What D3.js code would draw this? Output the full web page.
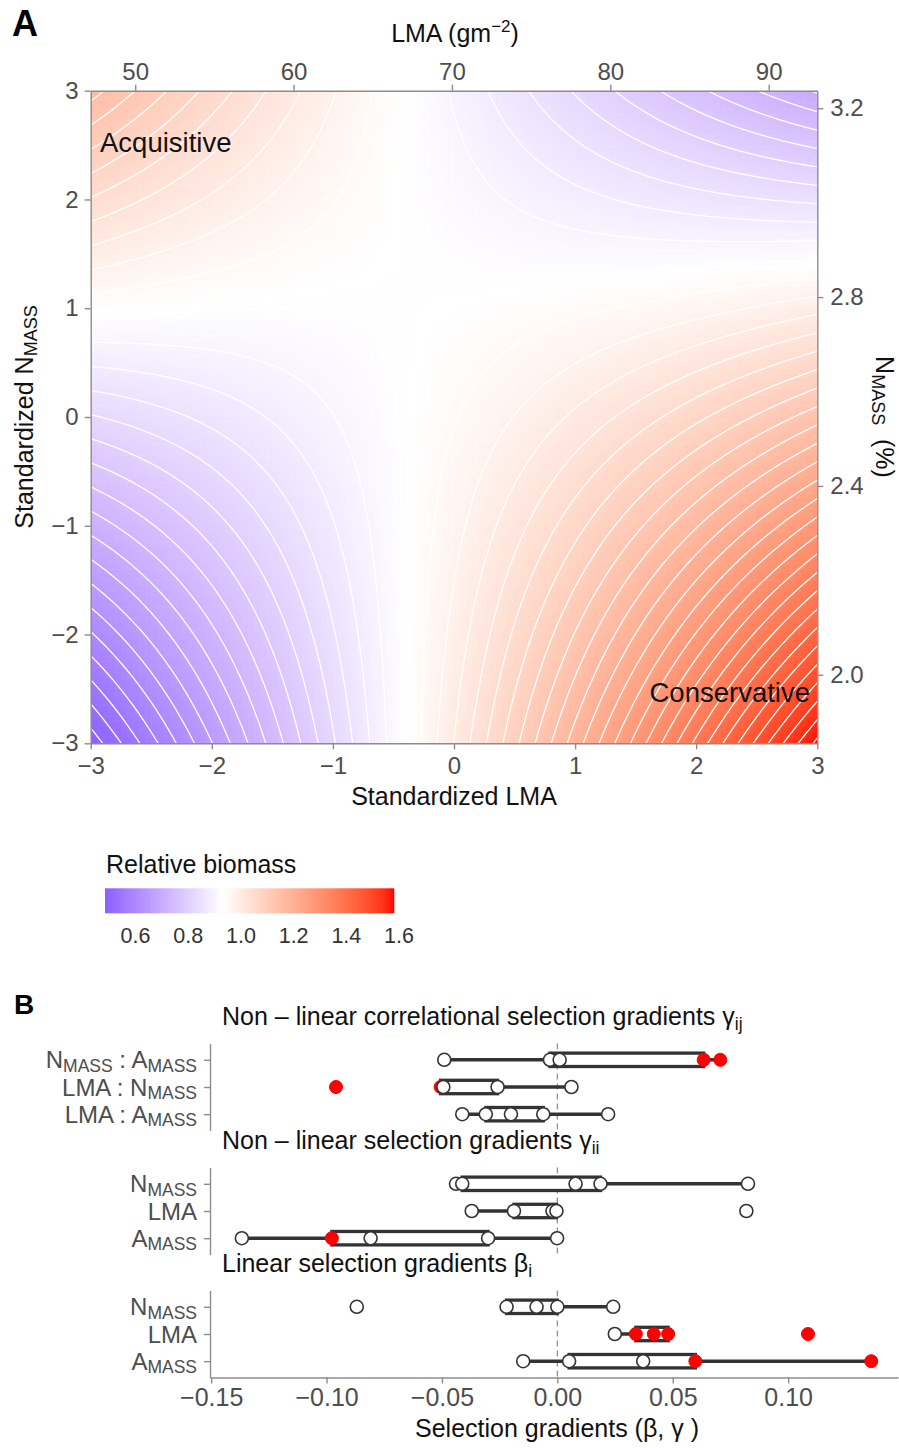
<!DOCTYPE html>
<html>
<head>
<meta charset="utf-8">
<script src="https://cdn.jsdelivr.net/npm/d3@7"></script>
<style>
  body { margin: 0; background: #fff; }
  svg { display: block; font-family: "Liberation Sans", Arial, sans-serif; }
</style>
</head>
<body>
<div id="chart"></div>
<script>
// ---------------- data ----------------
// fitted quadratic surface: x = standardized LMA, y = standardized NMASS
const surfaceTerms = ["intercept", "LMA", "NMASS", "LMA:NMASS", "LMA^2", "NMASS^2"];
const surfaceCoefs = [0.9485, 0.0528, -0.0174, -0.0434, 0.0036, 0.0];
const contourStep = 0.025;
const fillMid = 0.93;           // white point of the fill scale
const lmaMean = 70.13, lmaSd = 7.647;
const nMean = 2.546, nSd = 0.2304;

const stdTicks = [-3, -2, -1, 0, 1, 2, 3];
const lmaTicks = [50, 60, 70, 80, 90];
const nTicks = [2.0, 2.4, 2.8, 3.2];
const legendTicks = [0.6, 0.8, 1.0, 1.2, 1.4, 1.6];

// panel B
const groupTitles = [
  "Non \u2013 linear correlational selection gradients \u03b3_{ij}",
  "Non \u2013 linear selection gradients \u03b3_{ii}",
  "Linear selection gradients \u03b2_{i}"
];
const corrRows = ["N_{MASS} : A_{MASS}", "LMA : N_{MASS}", "LMA : A_{MASS}"];
const traitRows = ["N_{MASS}", "LMA", "A_{MASS}"];

const corrValues = [
  [-0.049, -0.0032, 0.001, 0.0634, 0.0706],
  [-0.0959, -0.0506, -0.0494, -0.0259, 0.0061],
  [-0.0412, -0.031, -0.0201, -0.0061, 0.022]
];
const corrSig = [[0, 0, 0, 1, 1], [1, 1, 0, 0, 0], [0, 0, 0, 0, 0]];

const quadValues = [
  [-0.0439, -0.0412, 0.0079, 0.0187, 0.0826],
  [-0.0371, -0.0188, -0.0021, -0.0004, 0.0819],
  [-0.1367, -0.0977, -0.0809, -0.030, -0.0001]
];
const quadSig = [[0, 0, 0, 0, 0], [0, 0, 0, 0, 0], [0, 1, 0, 0, 0]];

const linValues = [
  [-0.0869, -0.022, -0.009, 0.0, 0.0242],
  [0.0249, 0.034, 0.0418, 0.048, 0.1086],
  [-0.0148, 0.0051, 0.0372, 0.0598, 0.136]
];
const linSig = [[0, 0, 0, 0, 0], [0, 1, 1, 1, 1], [0, 0, 0, 1, 1]];

const gradTicks = [-0.15, -0.10, -0.05, 0.00, 0.05, 0.10];

// ---------------- setup ----------------
const W = 899, H = 1448;
const axisGray = "#8c8c8c", tickText = "#4d4d4d", dark = "#333333";

const svg = d3.select("#chart").append("svg").attr("width", W).attr("height", H);

function rich(sel, str, subSize, shift) {
  const parts = str.split(/(_\{[^}]*\}|\^\{[^}]*\})/).filter(s => s.length);
  let off = 0;
  parts.forEach(p => {
    let t = p, d = 0, sz = null;
    if (p.startsWith("_{")) { t = p.slice(2, -1); d = shift; sz = subSize; }
    else if (p.startsWith("^{")) { t = p.slice(2, -1); d = -shift * 2.4; sz = subSize; }
    const ts = sel.append("tspan").text(t).attr("dy", d - off);
    if (sz) ts.attr("font-size", sz);
    off = d;
  });
}

function styleAxis(g, size, color) {
  g.attr("font-family", null).attr("font-size", size);
  g.select(".domain").attr("stroke", axisGray).attr("stroke-width", 1.4);
  g.selectAll(".tick line").attr("stroke", axisGray).attr("stroke-width", 1.4);
  g.selectAll(".tick text").attr("fill", color);
}

// ---------------- panel A ----------------
const A = { l: 90.7, r: 817.3, t: 90.7, b: 743.3 };
const x = d3.scaleLinear().domain([-3, 3]).range([A.l, A.r]);
const y = d3.scaleLinear().domain([-3, 3]).range([A.b, A.t]);
const xLMA = d3.scaleLinear().domain([lmaMean - 3 * lmaSd, lmaMean + 3 * lmaSd]).range([A.l, A.r]);
const yN = d3.scaleLinear().domain([nMean - 3 * nSd, nMean + 3 * nSd]).range([A.b, A.t]);

function fitness(u, v) {
  const c = surfaceCoefs;
  return c[0] + c[1] * u + c[2] * v + c[3] * u * v + c[4] * u * u + c[5] * v * v;
}

const nCell = 120, cs = 6 / nCell;
const extent = d3.extent(d3.cross(d3.range(nCell + 1), d3.range(nCell + 1)),
  ([i, j]) => fitness(-3 + i * cs, -3 + j * cs));

const fill = d3.scaleLinear()
  .domain([extent[0], fillMid, extent[1]])
  .range(["#8a60ff", "#ffffff", "#ff0000"])
  .interpolate(d3.interpolateLab);

svg.append("clipPath").attr("id", "clipA")
  .append("rect").attr("x", A.l).attr("y", A.t).attr("width", A.r - A.l).attr("height", A.b - A.t);

const gA = svg.append("g").attr("clip-path", "url(#clipA)");

const cells = d3.cross(d3.range(nCell), d3.range(nCell)).map(([i, j]) => ({
  u0: -3 + i * cs, v0: -3 + j * cs,
  w: fitness(-3 + (i + 0.5) * cs, -3 + (j + 0.5) * cs)
}));

gA.append("g").selectAll("rect").data(cells).join("rect")
  .attr("x", d => x(d.u0))
  .attr("y", d => y(d.v0 + cs))
  .attr("width", d => x(d.u0 + cs) - x(d.u0) + 0.6)
  .attr("height", d => y(d.v0) - y(d.v0 + cs) + 0.6)
  .attr("fill", d => fill(d.w));

// contour lines on a padded grid, clipped to the plot
const m = 260, pad = 3.25, gs = 2 * pad / (m - 1);
const grid = new Array(m * m);
for (let j = 0; j < m; j++)
  for (let i = 0; i < m; i++)
    grid[j * m + i] = fitness(-pad + i * gs, pad - j * gs);

const kMin = Math.ceil(extent[0] / contourStep), kMax = Math.floor(extent[1] / contourStep);
const levels = d3.range(kMin, kMax + 1).map(k => +(k * contourStep).toFixed(4));
const contours = d3.contours().size([m, m]).thresholds(levels)(grid);

const proj = d3.geoTransform({
  point(px, py) { this.stream.point(x(-pad + (px - 0.5) * gs), y(pad - (py - 0.5) * gs)); }
});
gA.append("g").selectAll("path").data(contours).join("path")
  .attr("d", d3.geoPath(proj))
  .attr("fill", "none")
  .attr("stroke", "#ffffff")
  .attr("stroke-width", 1.3);

// axes
const intFmt = d3.format("d");
svg.append("g").attr("transform", `translate(0,${A.b})`)
  .call(d3.axisBottom(x).tickValues(stdTicks).tickFormat(intFmt).tickSize(6).tickSizeOuter(0).tickPadding(8))
  .call(g => styleAxis(g, 24, tickText));
svg.append("g").attr("transform", `translate(${A.l},0)`)
  .call(d3.axisLeft(y).tickValues(stdTicks).tickFormat(intFmt).tickSize(6).tickSizeOuter(0).tickPadding(6))
  .call(g => styleAxis(g, 24, tickText));
svg.append("g").attr("transform", `translate(0,${A.t})`)
  .call(d3.axisTop(xLMA).tickValues(lmaTicks).tickFormat(intFmt).tickSize(6).tickSizeOuter(0).tickPadding(5))
  .call(g => styleAxis(g, 24, tickText));
svg.append("g").attr("transform", `translate(${A.r},0)`)
  .call(d3.axisRight(yN).tickValues(nTicks).tickFormat(d3.format(".1f")).tickSize(6).tickSizeOuter(0).tickPadding(7))
  .call(g => styleAxis(g, 24, tickText));

// titles
svg.append("text").attr("x", 454).attr("y", 805).attr("text-anchor", "middle")
  .attr("font-size", 25).attr("fill", "#111").text("Standardized LMA");
rich(svg.append("text").attr("x", 455).attr("y", 42).attr("text-anchor", "middle")
  .attr("font-size", 25).attr("fill", "#111"), "LMA (gm^{\u22122})", 17, 4);
rich(svg.append("text").attr("transform", "translate(33,417) rotate(-90)").attr("text-anchor", "middle")
  .attr("font-size", 25).attr("fill", "#111"), "Standardized N_{MASS}", 18, 4);
rich(svg.append("text").attr("transform", "translate(876,417) rotate(90)").attr("text-anchor", "middle")
  .attr("font-size", 25).attr("fill", "#111"), "N_{MASS}\u00a0 (%)", 18, 4);

svg.append("text").attr("x", 100).attr("y", 152).attr("font-size", 27.5).attr("fill", "#111").text("Acquisitive");
svg.append("text").attr("x", 810).attr("y", 702).attr("text-anchor", "end")
  .attr("font-size", 27.5).attr("fill", "#111").text("Conservative");

svg.append("text").attr("x", 12).attr("y", 36).attr("font-size", 36).attr("font-weight", "bold").text("A");
svg.append("text").attr("x", 14).attr("y", 1014).attr("font-size", 28).attr("font-weight", "bold").text("B");

// legend
const lx = d3.scaleLinear().domain(extent).range([105, 394.3]);
const grad = svg.append("defs").append("linearGradient").attr("id", "legGrad")
  .attr("x1", "0%").attr("x2", "100%").attr("y1", "0%").attr("y2", "0%");
d3.range(0, 1.0001, 0.02).forEach(t => {
  grad.append("stop").attr("offset", `${t * 100}%`)
    .attr("stop-color", fill(extent[0] + t * (extent[1] - extent[0])));
});
svg.append("text").attr("x", 106).attr("y", 873).attr("font-size", 25).attr("fill", "#111").text("Relative biomass");
svg.append("rect").attr("x", lx.range()[0]).attr("y", 888.3)
  .attr("width", lx.range()[1] - lx.range()[0]).attr("height", 25)
  .attr("fill", "url(#legGrad)");
svg.append("g").selectAll("text").data(legendTicks).join("text")
  .attr("x", d => lx(d)).attr("y", 943).attr("text-anchor", "middle")
  .attr("font-size", 21.5).attr("fill", dark).text(d3.format(".1f"));

// ---------------- panel B ----------------
const bx = d3.scaleLinear().domain([-0.1505, 0.1476]).range([210, 898]);
const panelTops = [1043.5, 1167.5, 1290.5];
const panelH = 87;
const groups = [
  { title: groupTitles[0], rows: corrRows, values: corrValues, sig: corrSig },
  { title: groupTitles[1], rows: traitRows, values: quadValues, sig: quadSig },
  { title: groupTitles[2], rows: traitRows, values: linValues, sig: linSig }
];

function boxStats(vals) {
  const s = vals.slice().sort(d3.ascending);
  const q1 = d3.quantile(s, 0.25), q3 = d3.quantile(s, 0.75), iqr = q3 - q1;
  const lo = d3.min(s.filter(v => v >= q1 - 1.5 * iqr));
  const hi = d3.max(s.filter(v => v <= q3 + 1.5 * iqr));
  return { q1, q3, lo, hi };
}

groups.forEach((grp, gi) => {
  const top = panelTops[gi];
  const by = d3.scalePoint().domain(d3.range(grp.rows.length)).range([top, top + panelH]).padding(0.6);
  const g = svg.append("g");

  rich(g.append("text").attr("x", 222).attr("y", top - 18.5).attr("font-size", 25).attr("fill", "#111"),
    grp.title, 17.5, 5);

  // zero line
  g.append("line").attr("x1", bx(0)).attr("x2", bx(0)).attr("y1", top).attr("y2", top + panelH)
    .attr("stroke", "#8c8c8c").attr("stroke-width", 1.2).attr("stroke-dasharray", "6,4");

  // left axis
  g.append("g").attr("transform", `translate(${bx.range()[0]},0)`)
    .call(d3.axisLeft(by).tickSize(6).tickSizeOuter(0).tickFormat(""))
    .call(a => styleAxis(a, 24, tickText));
  grp.rows.forEach((lab, ri) => {
    rich(g.append("text").attr("x", 197).attr("y", by(ri) + 8.5).attr("text-anchor", "end")
      .attr("font-size", 24).attr("fill", tickText), lab, 17.5, 3.5);
  });

  grp.values.forEach((vals, ri) => {
    const st = boxStats(vals);
    const cy = by(ri);
    g.append("line").attr("x1", bx(st.lo)).attr("x2", bx(st.hi)).attr("y1", cy).attr("y2", cy)
      .attr("stroke", dark).attr("stroke-width", 3.4);
    g.append("rect").attr("x", bx(st.q1)).attr("width", bx(st.q3) - bx(st.q1))
      .attr("y", cy - 6.7).attr("height", 13.4)
      .attr("fill", "#fff").attr("stroke", dark).attr("stroke-width", 3.3);
    g.append("g").selectAll("circle").data(vals.map((v, k) => ({ v, s: grp.sig[ri][k] }))).join("circle")
      .attr("cx", d => bx(d.v)).attr("cy", cy).attr("r", 6.5)
      .attr("fill", d => d.s ? "#ff0000" : "#ffffff")
      .attr("stroke", d => d.s ? "#ff0000" : dark)
      .attr("stroke-width", d => d.s ? 1 : 1.6);
  });
});

// bottom axis
const bottomY = panelTops[2] + panelH;
svg.append("g").attr("transform", `translate(0,${bottomY})`)
  .call(d3.axisBottom(bx).tickValues(gradTicks).tickFormat(d3.format(".2f")).tickSize(6).tickSizeOuter(0).tickPadding(5))
  .call(g => styleAxis(g, 25, tickText));
svg.append("text").attr("x", 557).attr("y", 1437).attr("text-anchor", "middle")
  .attr("font-size", 25).attr("fill", "#111").text("Selection gradients (\u03b2, \u03b3 )");
</script>
</body>
</html>
